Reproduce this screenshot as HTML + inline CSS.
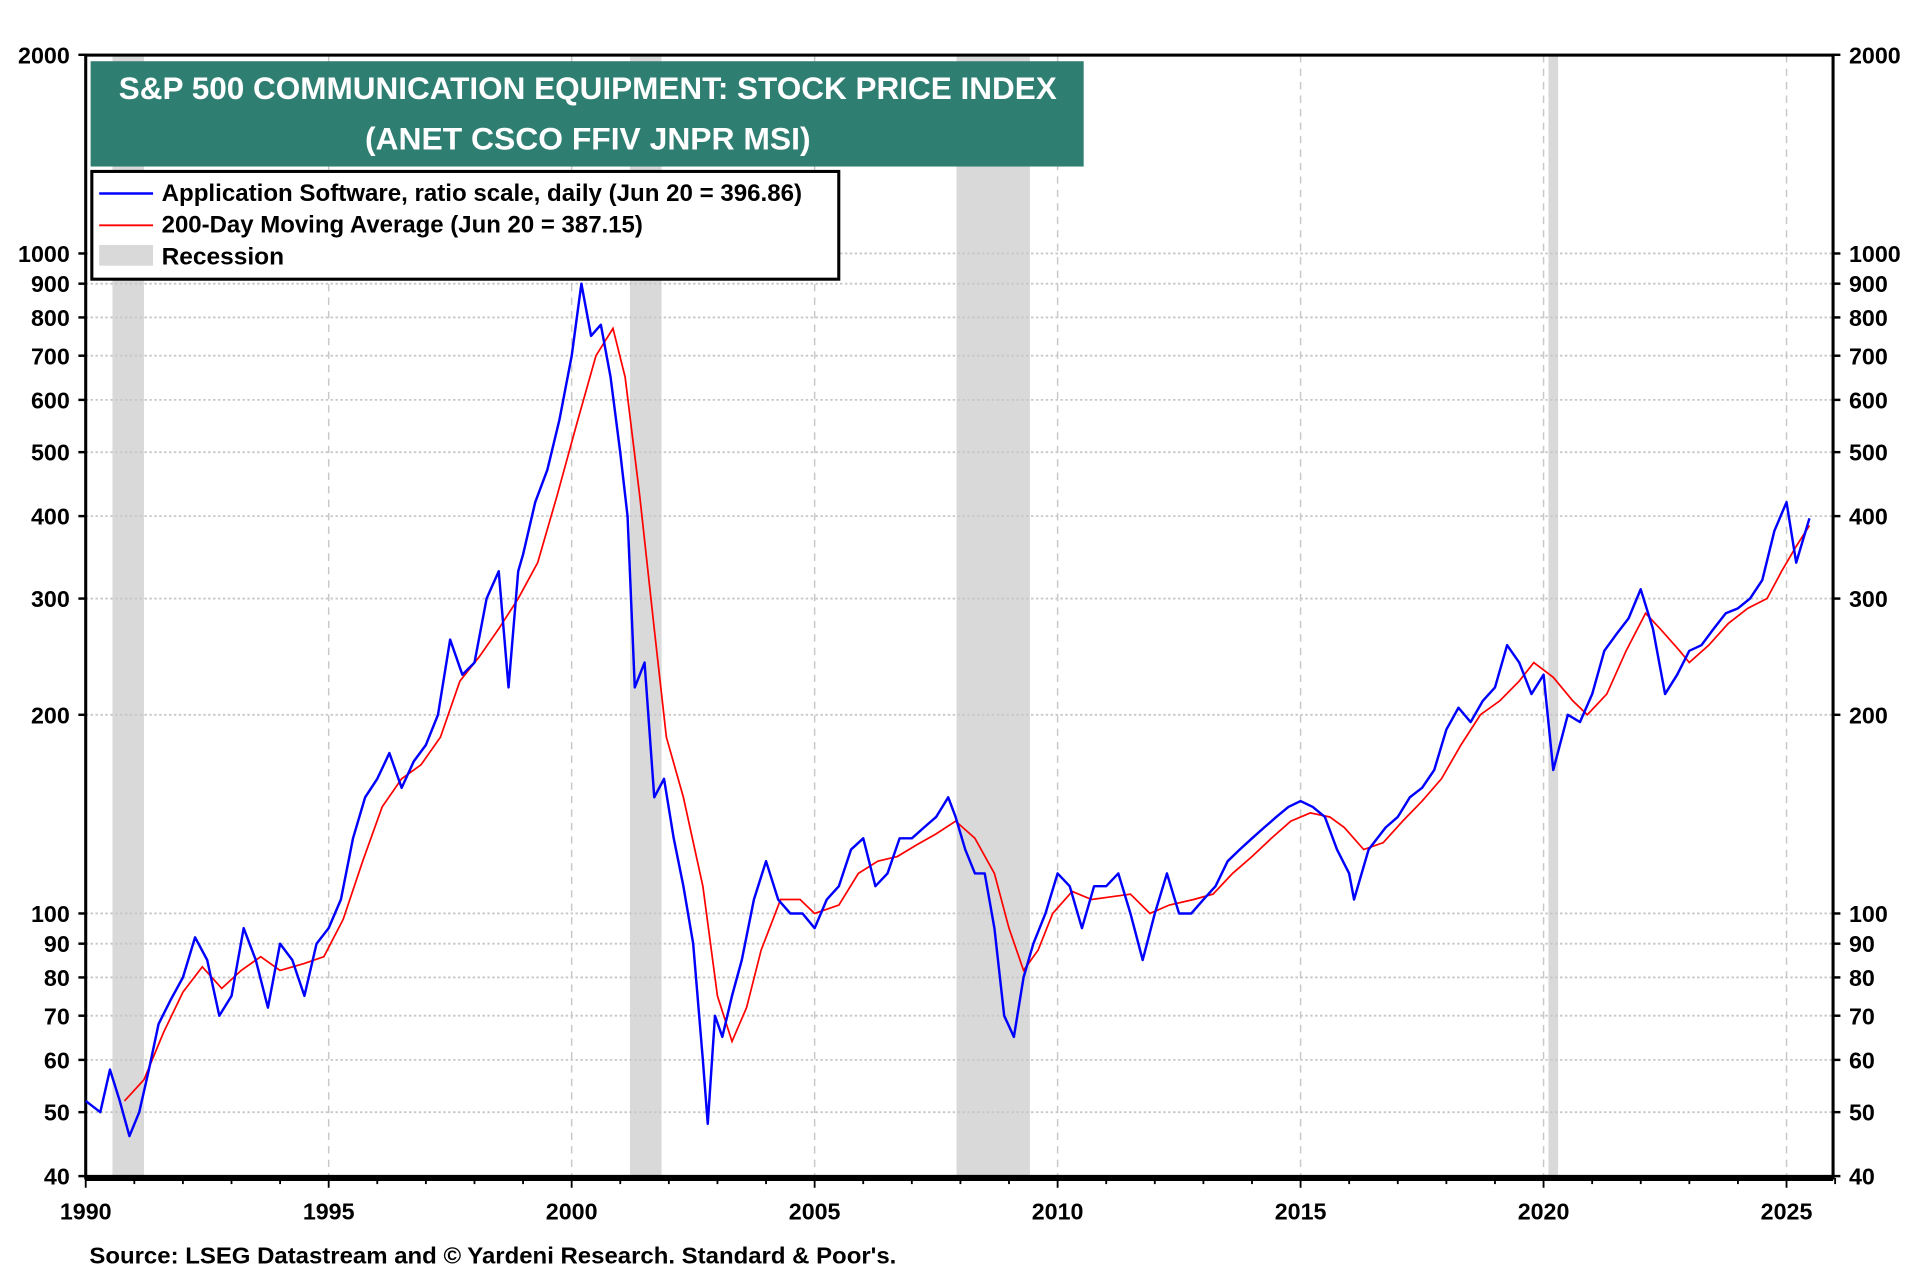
<!DOCTYPE html>
<html><head><meta charset="utf-8"><style>
html,body{margin:0;padding:0;background:#fff}
svg{display:block}
text{font-family:"Liberation Sans",sans-serif;font-weight:bold}
</style></head><body>
<svg id="chart" width="1920" height="1280" viewBox="0 0 1568 1045.33" xmlns="http://www.w3.org/2000/svg">
<g id="rec"></g>
<g id="grid"></g>
<g id="axes"></g>
<polyline id="ma" fill="none" stroke="#ff0000" stroke-width="1.4"/>
<polyline id="px" fill="none" stroke="#0000ff" stroke-width="2" stroke-linejoin="round"/>
<rect x="74" y="50" width="811" height="86" fill="#2f7e72"/>
<text x="480" y="81" fill="#fff" font-size="26" text-anchor="middle" textLength="766" lengthAdjust="spacingAndGlyphs">S&amp;P 500 COMMUNICATION EQUIPMENT: STOCK PRICE INDEX</text>
<text x="480" y="122" fill="#fff" font-size="26" text-anchor="middle">(ANET CSCO FFIV JNPR MSI)</text>
<g>
<rect x="75" y="140" width="610" height="88" fill="#fff" stroke="#000" stroke-width="2.5"/>
<line x1="81" y1="158" x2="125" y2="158" stroke="#0000ff" stroke-width="2"/>
<text x="132" y="164" font-size="20" textLength="523" lengthAdjust="spacingAndGlyphs">Application Software, ratio scale, daily (Jun 20 = 396.86)</text>
<line x1="81" y1="184" x2="125" y2="184" stroke="#ff0000" stroke-width="1.5"/>
<text x="132" y="190" font-size="20" textLength="393" lengthAdjust="spacingAndGlyphs">200-Day Moving Average (Jun 20 = 387.15)</text>
<rect x="81" y="200" width="44" height="17" fill="#d9d9d9"/>
<text x="132" y="216" font-size="20">Recession</text>
</g>
<text x="73" y="1032" font-size="19" textLength="659" lengthAdjust="spacingAndGlyphs">Source: LSEG Datastream and © Yardeni Research. Standard &amp; Poor's.</text>
</svg>
<script>
const recStart=[1990.55,2001.2,2007.92,2020.1];
const recEnd=[1991.2,2001.85,2009.43,2020.3];
const pxYears=[1990.0,1990.3,1990.5,1990.7,1990.9,1991.1,1991.3,1991.5,1991.75,1992.0,1992.25,1992.5,1992.75,1993.0,1993.25,1993.5,1993.75,1994.0,1994.25,1994.5,1994.75,1995.0,1995.25,1995.5,1995.75,1996.0,1996.25,1996.5,1996.75,1997.0,1997.25,1997.5,1997.75,1998.0,1998.25,1998.5,1998.7,1998.9,1999.0,1999.25,1999.5,1999.75,2000.0,2000.2,2000.4,2000.6,2000.8,2001.0,2001.15,2001.3,2001.5,2001.7,2001.9,2002.1,2002.3,2002.5,2002.7,2002.8,2002.95,2003.1,2003.3,2003.5,2003.75,2004.0,2004.25,2004.5,2004.75,2005.0,2005.25,2005.5,2005.75,2006.0,2006.25,2006.5,2006.75,2007.0,2007.25,2007.5,2007.75,2007.9,2008.1,2008.3,2008.5,2008.7,2008.9,2009.1,2009.3,2009.5,2009.75,2010.0,2010.25,2010.5,2010.75,2011.0,2011.25,2011.5,2011.75,2012.0,2012.25,2012.5,2012.75,2013.0,2013.25,2013.5,2013.75,2014.0,2014.25,2014.5,2014.75,2015.0,2015.25,2015.5,2015.75,2016.0,2016.1,2016.4,2016.75,2017.0,2017.25,2017.5,2017.75,2018.0,2018.25,2018.5,2018.75,2019.0,2019.25,2019.5,2019.75,2020.0,2020.2,2020.5,2020.75,2021.0,2021.25,2021.5,2021.75,2022.0,2022.25,2022.5,2022.75,2023.0,2023.25,2023.5,2023.75,2024.0,2024.25,2024.5,2024.75,2025.0,2025.2,2025.47];
const pxValues=[52,50,58,52,46,50,58,68,74,80,92,85,70,75,95,85,72,90,85,75,90,95,105,130,150,160,175,155,170,180,200,260,230,240,300,330,220,330,350,420,470,560,700,900,750,780,650,500,400,220,240,150,160,130,110,90,60,48,70,65,75,85,105,120,105,100,100,95,105,110,125,130,110,115,130,130,135,140,150,140,125,115,115,95,70,65,80,90,100,115,110,95,110,110,115,100,85,100,115,100,100,105,110,120,125,130,135,140,145,148,145,140,125,115,105,125,135,140,150,155,165,190,205,195,210,220,255,240,215,230,165,200,195,215,250,265,280,310,270,215,230,250,255,270,285,290,300,320,380,420,340,397];
const maYears=[1990.8,1991.2,1991.6,1992.0,1992.4,1992.8,1993.2,1993.6,1994.0,1994.5,1994.9,1995.3,1995.7,1996.1,1996.5,1996.9,1997.3,1997.7,1998.1,1998.5,1998.9,1999.3,1999.7,2000.1,2000.5,2000.85,2001.1,2001.4,2001.7,2001.95,2002.3,2002.7,2003.0,2003.3,2003.6,2003.9,2004.3,2004.7,2005.0,2005.5,2005.9,2006.3,2006.7,2007.1,2007.5,2007.9,2008.3,2008.7,2009.0,2009.3,2009.6,2009.9,2010.3,2010.7,2011.1,2011.5,2011.9,2012.3,2012.8,2013.2,2013.6,2014.0,2014.4,2014.8,2015.2,2015.6,2015.9,2016.3,2016.7,2017.1,2017.5,2017.9,2018.3,2018.7,2019.1,2019.5,2019.8,2020.2,2020.6,2020.9,2021.3,2021.7,2022.1,2022.4,2022.8,2023.0,2023.4,2023.8,2024.2,2024.6,2024.9,2025.2,2025.47];
const maValues=[52,56,66,76,83,77,82,86,82,84,86,98,120,145,160,168,185,225,245,270,300,340,430,550,700,770,650,430,270,185,150,110,75,64,72,88,105,105,100,103,115,120,122,127,132,138,130,115,95,82,88,100,108,105,106,107,100,103,105,107,115,122,130,138,142,140,135,125,128,138,148,160,180,200,210,225,240,228,210,200,215,250,285,270,250,240,255,275,290,300,330,360,387];
const yTickVals=[2000,1000,900,800,700,600,500,400,300,200,100,90,80,70,60,50,40];
const xTickLabels=[1990,1995,2000,2005,2010,2015,2020,2025];

const L=70,R=1497,T=45,B=962;
const X=y=>70+(y-1990)*(1459-70)/35;
const Y=v=>207-Math.log10(v/1000)*539;
const NS='http://www.w3.org/2000/svg';
function mk(parent,tag,attrs){const e=document.createElementNS(NS,tag);for(const k in attrs)e.setAttribute(k,attrs[k]);document.getElementById(parent).appendChild(e);return e;}
recStart.forEach((s,i)=>{const r=mk('rec','rect',{x:X(s),y:T,width:X(recEnd[i])-X(s),height:B-T,fill:'#d9d9d9'});

});
yTickVals.forEach(v=>{if(v===2000||v===40)return;const g=mk('grid','line',{x1:L,x2:R,y1:Y(v),y2:Y(v),stroke:'#c8c8c8','stroke-width':1.5,'stroke-dasharray':'2,2'});

});
xTickLabels.forEach(y=>{if(y===1990)return;const g=mk('grid','line',{x1:X(y),x2:X(y),y1:T,y2:B,stroke:'#c8c8c8','stroke-width':1.2,'stroke-dasharray':'6,5'});

});
const fr=mk('axes','rect',{x:L,y:T,width:R-L,height:B-T,fill:'none',stroke:'#000','stroke-width':2.5});


const bl=mk('axes','line',{x1:L,x2:R,y1:B,y2:B,stroke:'#000','stroke-width':5});


yTickVals.forEach(v=>{
 const a=mk('axes','text',{x:L-13,y:Y(v)+7,'font-size':19,'text-anchor':'end'});a.textContent=v;
 
 
 const b=mk('axes','text',{x:R+13,y:Y(v)+7,'font-size':19,'text-anchor':'start'});b.textContent=v;
 
 
 mk('axes','line',{x1:L-6,x2:L,y1:Y(v),y2:Y(v),stroke:'#000','stroke-width':2});
 mk('axes','line',{x1:R,x2:R+6,y1:Y(v),y2:Y(v),stroke:'#000','stroke-width':2});
});
for(let y=1990;y<=2026;y++){mk('axes','line',{x1:X(y),x2:X(y),y1:B,y2:B+(y%5===0?8:5),stroke:'#000','stroke-width':1.5});}
xTickLabels.forEach(y=>{const t=mk('axes','text',{x:X(y),y:B+34,'font-size':19,'text-anchor':'middle'});t.textContent=y;

});
document.getElementById('px').setAttribute('points',pxYears.map((y,i)=>X(y).toFixed(1)+','+Y(pxValues[i]).toFixed(1)).join(' '));
document.getElementById('ma').setAttribute('points',maYears.map((y,i)=>X(y).toFixed(1)+','+Y(maValues[i]).toFixed(1)).join(' '));
</script>
</body></html>
